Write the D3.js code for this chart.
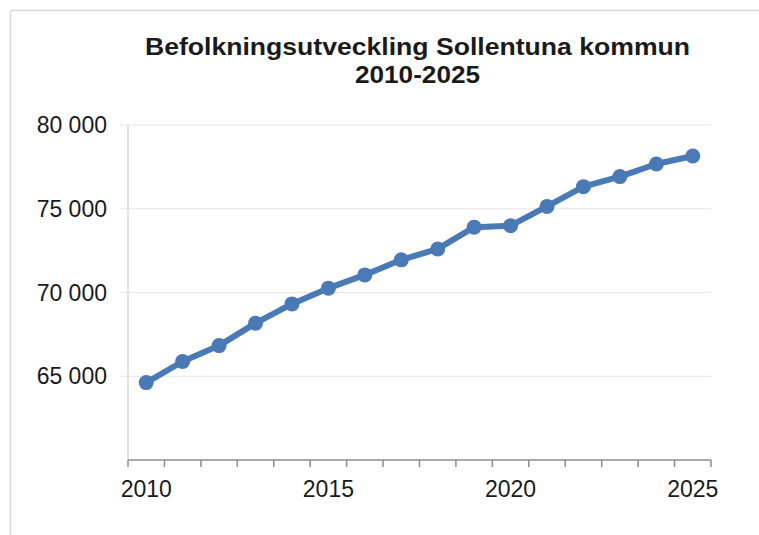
<!DOCTYPE html>
<html>
<head>
<meta charset="utf-8">
<script src="https://cdn.jsdelivr.net/npm/d3@7"></script>
<style>
  body { margin: 0; background: #fff; }
  text { font-family: "Liberation Sans", Arial, sans-serif; fill: #1a1a1a; }
</style>
</head>
<body>
<svg width="759" height="535"></svg>
<script>
const years = [2010, 2011, 2012, 2013, 2014, 2015, 2016, 2017, 2018, 2019, 2020, 2021, 2022, 2023, 2024, 2025];
const population = [64620, 65880, 66830, 68170, 69320, 70260, 71050, 71950, 72600, 73900, 73990, 75140, 76320, 76920, 77670, 78150];
const yTicks = [65000, 70000, 75000, 80000];
const xLabels = [2010, 2015, 2020, 2025];
const titleLines = ['Befolkningsutveckling Sollentuna kommun', '2010-2025'];

const svg = d3.select('svg');

// frame
svg.append('rect')
  .attr('x', 10.5).attr('y', 10.5)
  .attr('width', 800).attr('height', 600)
  .style('fill', 'none')
  .style('stroke', '#d9d9d9')
  .style('stroke-width', '1.5px');

const plotLeft = 128, plotRight = 711, plotTop = 125, plotBottom = 460;

const x = d3.scaleBand().domain(years).range([plotLeft, plotRight]).padding(0);
const y = d3.scaleLinear().domain([60000, 80000]).range([plotBottom, plotTop]);

const fmt = d3.formatLocale({ decimal: ',', thousands: ' ', grouping: [3], currency: ['', ' kr'] }).format(',');

// gridlines + y labels
svg.selectAll('line.grid')
  .data(yTicks)
  .enter()
  .append('line')
  .attr('class', 'grid')
  .attr('x1', plotLeft - 8).attr('x2', plotRight)
  .attr('y1', d => y(d)).attr('y2', d => y(d))
  .style('stroke', '#e6e6e6')
  .style('stroke-width', '1px');

svg.selectAll('text.ylab')
  .data(yTicks)
  .enter()
  .append('text')
  .attr('class', 'ylab')
  .attr('x', 107)
  .attr('y', d => y(d) + 8)
  .attr('text-anchor', 'end')
  .style('font-size', '23px')
  .text(d => fmt(d));

// y axis line
svg.append('line')
  .attr('x1', plotLeft).attr('x2', plotLeft)
  .attr('y1', plotTop).attr('y2', plotBottom)
  .style('stroke', '#d9d9d9')
  .style('stroke-width', '1.5px');

// x axis
svg.append('line')
  .attr('x1', plotLeft).attr('x2', plotRight)
  .attr('y1', plotBottom).attr('y2', plotBottom)
  .style('stroke', '#8c8c8c')
  .style('stroke-width', '1.5px');

const boundaries = years.map(d => x(d)).concat([x(years[years.length - 1]) + x.bandwidth()]);
svg.selectAll('line.xtick')
  .data(boundaries)
  .enter()
  .append('line')
  .attr('class', 'xtick')
  .attr('x1', d => d).attr('x2', d => d)
  .attr('y1', plotBottom).attr('y2', plotBottom + 7)
  .style('stroke', '#8c8c8c')
  .style('stroke-width', '1.5px');

svg.selectAll('text.xlab')
  .data(xLabels)
  .enter()
  .append('text')
  .attr('class', 'xlab')
  .attr('x', d => x(d) + x.bandwidth() / 2)
  .attr('y', 497)
  .attr('text-anchor', 'middle')
  .style('font-size', '23px')
  .text(d => d);

// line + markers
const pts = years.map((d, i) => [x(d) + x.bandwidth() / 2, y(population[i])]);

svg.append('path')
  .attr('d', d3.line()(pts))
  .style('fill', 'none')
  .style('stroke', '#4a7ab6')
  .style('stroke-width', '6px')
  .style('stroke-linejoin', 'round');

svg.selectAll('circle.pt')
  .data(pts)
  .enter()
  .append('circle')
  .attr('class', 'pt')
  .attr('cx', d => d[0]).attr('cy', d => d[1])
  .attr('r', 7.5)
  .style('fill', '#4a7ab6');

// title
svg.selectAll('text.title')
  .data(titleLines)
  .enter()
  .append('text')
  .attr('class', 'title')
  .attr('x', 417.5)
  .attr('y', (d, i) => 55 + i * 28)
  .attr('text-anchor', 'middle')
  .attr('textLength', (d, i) => i === 0 ? 545 : 125)
  .attr('lengthAdjust', 'spacingAndGlyphs')
  .style('font-size', '24px')
  .style('font-weight', 'bold')
  .text(d => d);
</script>
</body>
</html>
